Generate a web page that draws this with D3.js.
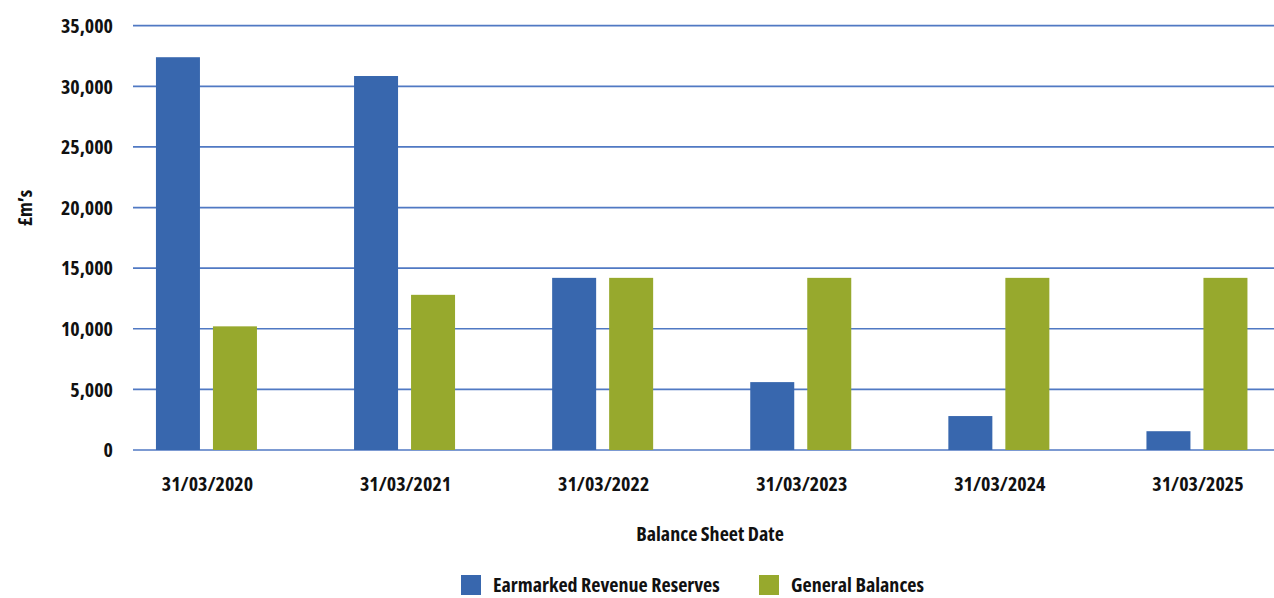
<!DOCTYPE html>
<html>
<head>
<meta charset="utf-8">
<script src="https://cdn.jsdelivr.net/npm/d3@7"></script>
<style>
  body { margin: 0; background: #fff; }
  text { font-family: "Open Sans", "Noto Sans", sans-serif; font-weight: bold; font-stretch: condensed; fill: #111; font-size: 20px; }
</style>
</head>
<body>
<script>
    // data
    var dates = ["31/03/2020","31/03/2021","31/03/2022","31/03/2023","31/03/2024","31/03/2025"];
    var seriesNames = ["Earmarked Revenue Reserves","General Balances"];
    var earmarked = [32400, 30850, 14200, 5600, 2800, 1550];
    var general = [10200, 12800, 14200, 14200, 14200, 14200];
    var yTicks = [0, 5000, 10000, 15000, 20000, 25000, 30000, 35000];
    var colours = ["#3867ae", "#97a92d"];

    var w = 1274, h = 598;
    var svg = d3.select("body").append("svg").attr("width", w).attr("height", h);

    var y = d3.scaleLinear().domain([0, 35000]).range([450, 25.7]);
    var x0 = d3.scaleBand().domain(dates).range([107.4, 1296]);
    var x1 = d3.scaleBand().domain(seriesNames)
        .range([x0.bandwidth() / 2 - 50.5, x0.bandwidth() / 2 + 50.5])
        .paddingInner(13 / 57).paddingOuter(0);

    // gridlines
    svg.selectAll("line.grid")
       .data(yTicks)
       .enter()
       .append("line")
       .attr("class", "grid")
       .attr("x1", 133).attr("x2", 1274)
       .attr("y1", function(d){ return y(d); })
       .attr("y2", function(d){ return y(d); })
       .attr("stroke", "#5079c3")
       .attr("stroke-width", 1.7);

    // y tick labels
    var fmt = d3.format(",");
    svg.selectAll("text.ytick")
       .data(yTicks)
       .enter()
       .append("text")
       .attr("class", "ytick")
       .attr("x", 113)
       .attr("y", function(d){ return y(d); })
       .attr("dy", "0.36em")
       .attr("text-anchor", "end")
       .text(function(d){ return fmt(d); });

    // bars
    var rows = dates.map(function(d, i){
      return { date: d, values: [
        { name: seriesNames[0], v: earmarked[i] },
        { name: seriesNames[1], v: general[i] } ] };
    });

    var groups = svg.selectAll("g.grp")
       .data(rows)
       .enter()
       .append("g")
       .attr("class", "grp")
       .attr("transform", function(d){ return "translate(" + x0(d.date) + ",0)"; });

    groups.selectAll("rect")
       .data(function(d){ return d.values; })
       .enter()
       .append("rect")
       .attr("x", function(d){ return x1(d.name); })
       .attr("width", x1.bandwidth())
       .attr("y", function(d){ return y(d.v); })
       .attr("height", function(d){ return y(0) - y(d.v); })
       .attr("fill", function(d, i){ return colours[i]; });

    // x labels
    svg.selectAll("text.xlab")
       .data(dates)
       .enter()
       .append("text")
       .attr("class", "xlab")
       .attr("x", function(d){ return x0(d) + x0.bandwidth() / 2 + 1; })
       .attr("y", 491)
       .attr("text-anchor", "middle")
       .text(function(d){ return d; });

    // axis titles
    svg.append("text")
       .attr("x", 710).attr("y", 541)
       .attr("text-anchor", "middle")
       .text("Balance Sheet Date");

    svg.append("text")
       .attr("transform", "translate(32,208) rotate(-90)")
       .attr("text-anchor", "middle")
       .text("£m’s");

    // legend
    var legX = [461, 759];
    var leg = svg.selectAll("g.leg")
       .data(seriesNames)
       .enter()
       .append("g")
       .attr("class", "leg")
       .attr("transform", function(d, i){ return "translate(" + legX[i] + ",575)"; });
    leg.append("rect")
       .attr("width", 20).attr("height", 20)
       .attr("fill", function(d, i){ return colours[i]; });
    leg.append("text")
       .attr("x", 32).attr("y", 17)
       .text(function(d){ return d; });
</script>
</body>
</html>
